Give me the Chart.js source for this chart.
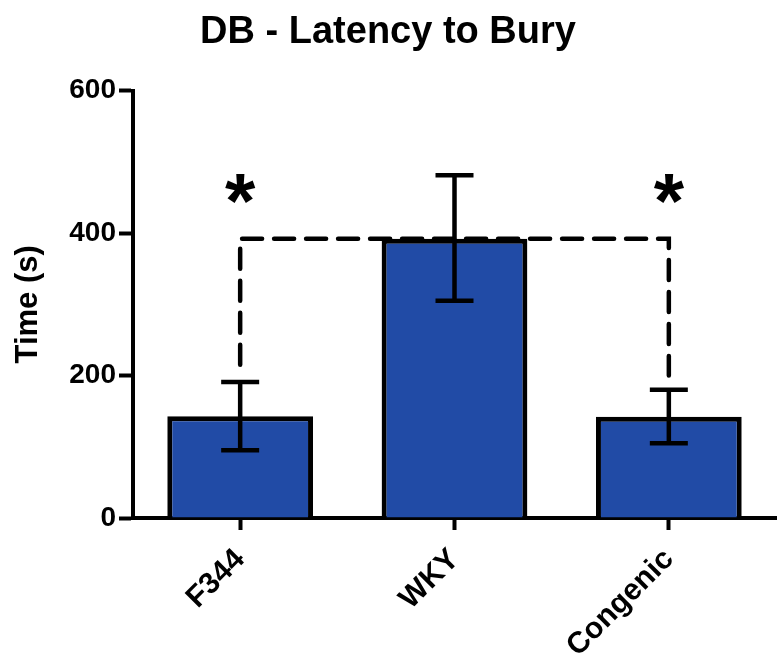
<!DOCTYPE html>
<html>
<head>
<meta charset="utf-8">
<title>DB - Latency to Bury</title>
<script src="https://cdn.jsdelivr.net/npm/chart.js@4.4.0/dist/chart.umd.min.js"></script>
<style>
    html, body { margin: 0; padding: 0; background: #ffffff; }
</style>
</head>
<body>
<canvas id="latencyChart" width="780" height="666"></canvas>
<script>
// Data
const groups = ['F344', 'WKY', 'Congenic'];
const meanTime = [143, 392, 142];
const errLow = [95, 305, 105];
const errHigh = [191, 481, 180];
const yTicks = [0, 200, 400, 600];

// Significance bracket (WKY vs F344 / Congenic)
const sigGroups = ['F344', 'Congenic'];
const bracketTop = 392;
const bracketBottom = [215, 200];
const starLevel = 462;

const FONT = '"Liberation Sans", Arial, Helvetica, sans-serif';

// Error bars with caps
const errorBarPlugin = {
    id: 'errorBars',
    afterDatasetsDraw(chart) {
        const ctx = chart.ctx;
        const x = chart.scales.x;
        const y = chart.scales.y;
        ctx.save();
        ctx.strokeStyle = '#000';
        ctx.lineWidth = 4.5;
        ctx.lineCap = 'butt';
        groups.forEach((g, i) => {
            const cx = x.getPixelForValue(i);
            const top = y.getPixelForValue(errHigh[i]);
            const bot = y.getPixelForValue(errLow[i]);
            ctx.beginPath();
            ctx.moveTo(cx, top);
            ctx.lineTo(cx, bot);
            ctx.moveTo(cx - 19, top);
            ctx.lineTo(cx + 19, top);
            ctx.moveTo(cx - 19, bot);
            ctx.lineTo(cx + 19, bot);
            ctx.stroke();
        });
        ctx.restore();
    }
};

// Dashed bracket drawn behind the bars, stars on top
const bracketPlugin = {
    id: 'sigBracket',
    beforeDatasetsDraw(chart) {
        const ctx = chart.ctx;
        const x = chart.scales.x;
        const y = chart.scales.y;
        const xs = sigGroups.map(g => x.getPixelForValue(groups.indexOf(g)));
        const yTop = y.getPixelForValue(bracketTop);
        ctx.save();
        ctx.strokeStyle = '#000';
        ctx.lineWidth = 4.5;
        ctx.lineCap = 'round';
        ctx.setLineDash([20, 12]);
        ctx.beginPath();
        ctx.moveTo(xs[0], y.getPixelForValue(bracketBottom[0]));
        ctx.lineTo(xs[0], yTop);
        ctx.lineTo(xs[1], yTop);
        ctx.lineTo(xs[1], y.getPixelForValue(bracketBottom[1]));
        ctx.stroke();
        ctx.restore();
    },
    afterDatasetsDraw(chart) {
        const ctx = chart.ctx;
        const x = chart.scales.x;
        const y = chart.scales.y;
        ctx.save();
        ctx.fillStyle = '#000';
        ctx.font = 'bold 78px ' + FONT;
        ctx.textAlign = 'center';
        ctx.textBaseline = 'alphabetic';
        const m = ctx.measureText('*');
        const shift = (m.actualBoundingBoxAscent - m.actualBoundingBoxDescent) / 2;
        sigGroups.forEach(g => {
            const cx = x.getPixelForValue(groups.indexOf(g));
            ctx.fillText('*', cx, y.getPixelForValue(starLevel) + shift);
        });
        ctx.restore();
    }
};

new Chart(document.getElementById('latencyChart'), {
    type: 'bar',
    data: {
        labels: groups,
        datasets: [{
            label: 'Time (s)',
            data: meanTime,
            backgroundColor: '#214ba6',
            borderColor: '#000000',
            borderWidth: 5,
            barPercentage: 0.68,
            categoryPercentage: 1.0
        }]
    },
    options: {
        responsive: false,
        animation: false,
        devicePixelRatio: 1,
        layout: { padding: { left: 0, right: 4, top: 0, bottom: 0 } },
        plugins: {
            legend: { display: false },
            tooltip: { enabled: false },
            title: {
                display: true,
                text: 'DB - Latency to Bury',
                color: '#000',
                font: { family: FONT, size: 38, weight: 'bold' },
                padding: { top: 10, bottom: 35 }
            }
        },
        scales: {
            x: {
                afterFit(scale) { scale.height = 148; },
                grid: {
                    offset: false,
                    drawOnChartArea: false,
                    drawTicks: true,
                    tickLength: 12,
                    tickWidth: 4,
                    tickColor: '#000'
                },
                border: { display: true, width: 4, color: '#000' },
                ticks: {
                    color: '#000',
                    font: { family: FONT, size: 30, weight: 'bold' },
                    minRotation: 45,
                    maxRotation: 45,
                    padding: 12
                }
            },
            y: {
                min: 0,
                max: 600,
                afterFit(scale) { scale.width = 133; },
                afterBuildTicks(scale) {
                    scale.ticks = yTicks.map(v => ({ value: v }));
                },
                grid: {
                    drawOnChartArea: false,
                    drawTicks: true,
                    tickLength: 14,
                    tickWidth: 4,
                    tickColor: '#000'
                },
                border: { display: true, width: 4, color: '#000' },
                ticks: {
                    color: '#000',
                    font: { family: FONT, size: 28, weight: 'bold' },
                    padding: 3
                },
                title: {
                    display: true,
                    text: 'Time (s)',
                    color: '#000',
                    font: { family: FONT, size: 31, weight: 'bold' },
                    padding: { top: 10, bottom: 0 }
                }
            }
        }
    },
    plugins: [errorBarPlugin, bracketPlugin]
});
</script>
</body>
</html>
